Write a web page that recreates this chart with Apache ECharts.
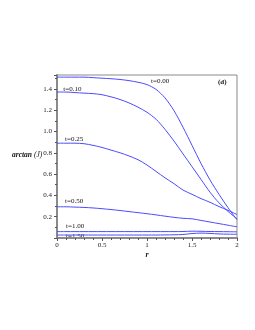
<!DOCTYPE html>
<html><head><meta charset="utf-8">
<script src="https://cdn.jsdelivr.net/npm/echarts@6/dist/echarts.min.js"></script>
<style>html,body{margin:0;padding:0;background:#fff}#c{width:255px;height:330px}</style>
</head><body><div id="c"></div>
<script>
var rValues = [0,0.1,0.2,0.3,0.4,0.5,0.6,0.7,0.8,0.9,1.0,1.1,1.2,1.3,1.4,1.5,1.6,1.7,1.8,1.9,2.0];
var t000 = [1.51,1.51,1.51,1.51,1.505,1.50,1.495,1.488,1.477,1.462,1.44,1.395,1.315,1.195,1.04,0.87,0.70,0.545,0.41,0.285,0.17];
var t010 = [1.37,1.37,1.365,1.36,1.355,1.345,1.325,1.30,1.268,1.228,1.18,1.115,1.02,0.91,0.79,0.67,0.55,0.43,0.33,0.25,0.18];
var t025 = [0.89,0.89,0.89,0.885,0.87,0.85,0.825,0.80,0.77,0.735,0.685,0.625,0.565,0.51,0.45,0.41,0.37,0.335,0.295,0.26,0.22];
var t050 = [0.293,0.293,0.29,0.287,0.282,0.275,0.267,0.258,0.248,0.238,0.228,0.217,0.205,0.194,0.185,0.18,0.165,0.15,0.135,0.12,0.105];
var t100 = [0.06,0.06,0.06,0.06,0.06,0.06,0.06,0.06,0.06,0.06,0.06,0.06,0.06,0.06,0.061,0.064,0.063,0.061,0.06,0.059,0.058];
var t150 = [0.028,0.028,0.028,0.028,0.028,0.028,0.028,0.028,0.028,0.028,0.028,0.028,0.029,0.03,0.033,0.042,0.046,0.043,0.038,0.036,0.035];
var seriesNames = ['t=0.00','t=0.10','t=0.25','t=0.50','t=1.00','t=1.50'];
var seriesValues = [t000,t010,t025,t050,t100,t150];
var yTicks = [0.2,0.4,0.6,0.8,1.0,1.2,1.4];
var xTicks = [0,0.5,1,1.5,2];

var font = 'Liberation Serif, Times New Roman, serif';
var lineColor = '#4b4bff';
var chart = echarts.init(document.getElementById('c'), null, {renderer:'canvas'});

function pairs(vals){ return rValues.map(function(r,i){return [r, vals[i]];}); }

var series = seriesValues.map(function(v,i){
  return {name: seriesNames[i], type:'line', data: pairs(v), smooth:0.3, symbol:'none',
    lineStyle:{color:lineColor, width:1}, silent:true};
});

var labelSpecs = [
  {text:'t=0.00', r:1.045, v:1.47},
  {text:'t=0.10', r:0.07, v:1.40},
  {text:'t=0.25', r:0.09, v:0.925},
  {text:'t=0.50', r:0.09, v:0.35},
  {text:'t=1.00', r:0.10, v:0.115},
  {text:'t=1.50', r:0.10, v:0.02}
];

chart.setOption({
  animation:false,
  grid:{left:57, top:75, right:18, bottom:92, show:true, borderColor:'#8a8a8a', borderWidth:1},
  xAxis:{type:'value', min:0, max:2, interval:0.5,
    axisLine:{lineStyle:{color:'#8a8a8a', width:2}},
    axisTick:{show:true, length:3, lineStyle:{color:'#555'}},
    minorTick:{show:true, splitNumber:5, length:2, lineStyle:{color:'#555'}},
    splitLine:{show:false},
    axisLabel:{fontFamily:font, fontSize:7, color:'#222', margin:4,
      formatter:function(v){ return xTicks.indexOf(v)>=0 ? String(v) : ''; }},
    name:'r', nameLocation:'middle', nameGap:13,
    nameTextStyle:{fontFamily:font, fontSize:8, fontStyle:'italic', fontWeight:'bold', color:'#111'}
  },
  yAxis:{type:'value', min:0, max:1.53, interval:0.2,
    axisLine:{lineStyle:{color:'#8a8a8a', width:2}},
    axisTick:{show:true, length:3, lineStyle:{color:'#555'}},
    minorTick:{show:true, splitNumber:2, length:2, lineStyle:{color:'#555'}},
    splitLine:{show:false},
    axisLabel:{fontFamily:font, fontSize:7, color:'#222', margin:5,
      formatter:function(v){ var f=Math.round(v*10)/10; return yTicks.indexOf(f)>=0 && Math.abs(f-v)<1e-6 ? f.toFixed(1) : ''; }}
  },
  series: series
});

var graphics = labelSpecs.map(function(s){
  var p = chart.convertToPixel({gridIndex:0}, [s.r, s.v]);
  return {type:'text', x:p[0], y:p[1], style:{text:s.text, fontFamily:font, fontSize:7, fill:'#111', textAlign:'left', textVerticalAlign:'middle'}};
});
graphics.push({type:'text', x:218, y:82, style:{text:'(d)', fontFamily:font, fontSize:7, fontWeight:'bold', fill:'#111', textVerticalAlign:'middle'}});
graphics.push({type:'text', x:12, y:155, style:{text:'arctan', fontFamily:font, fontSize:7.5, fontStyle:'italic', fontWeight:'bold', fill:'#111', textVerticalAlign:'middle'}});
graphics.push({type:'text', x:34, y:155, style:{text:'(J)', fontFamily:font, fontSize:7.5, fontStyle:'italic', fill:'#111', textVerticalAlign:'middle'}});
chart.setOption({graphic:graphics});
</script></body></html>
